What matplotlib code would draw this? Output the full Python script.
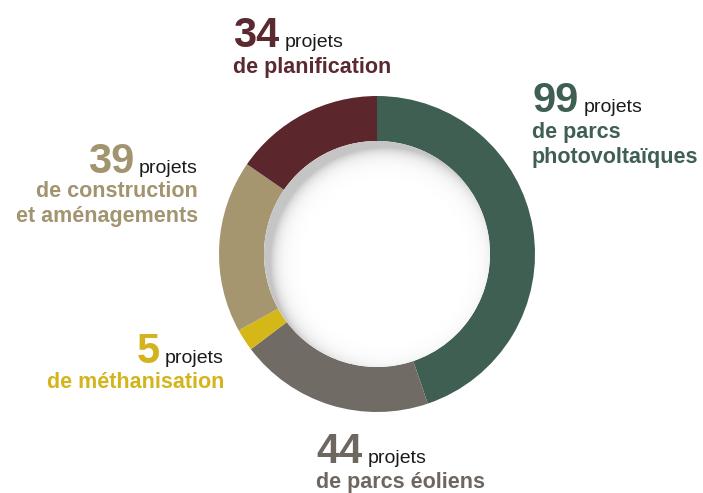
import numpy as np
import matplotlib
matplotlib.use("Agg")
import matplotlib.pyplot as plt
from matplotlib.patches import Circle

# data, clockwise from the top
counts = [99, 44, 5, 39, 34]
labels = [["de parcs", "photovoltaïques"],
          ["de parcs éoliens"],
          ["de méthanisation"],
          ["de construction", "et aménagements"],
          ["de planification"]]
ring_colors = ["#3f5f53", "#716b65", "#d6b718", "#a69670", "#5b272d"]
text_colors = ["#3f5f52", "#6d6760", "#d4b41c", "#a39470", "#5b2a30"]

W, H = 703, 493
fig = plt.figure(figsize=(W / 100, H / 100), dpi=100)
ax = fig.add_axes([0, 0, 1, 1])

cx, cy = 377, H - 254
r_out, r_in = 158, 113

ax.pie(counts, colors=ring_colors, startangle=90, counterclock=False,
       center=(cx, cy), radius=r_out,
       wedgeprops=dict(width=r_out - r_in, linewidth=0))

# soft inner shadow on the hole, mostly top-left
hole = Circle((cx, cy), r_in, facecolor="white", edgecolor="none", zorder=3)
ax.add_patch(hole)
xs = np.linspace(cx - r_in, cx + r_in, 300)
ys = np.linspace(cy - r_in, cy + r_in, 300)
X, Y = np.meshgrid(xs, ys)
d = (r_in + 2) - np.hypot(X - cx - 8, Y - cy + 8)
shade = np.exp(-np.clip(d, 0, None) / 7.0) * 0.35
img = np.ones((300, 300, 4))
img[..., :3] = 0.35
img[..., 3] = shade
im = ax.imshow(img, extent=(xs[0], xs[-1], ys[0], ys[-1]), origin="lower",
               zorder=4, interpolation="bilinear")
im.set_clip_path(Circle((cx, cy), r_in, transform=ax.transData))

ax.set_xlim(0, W)
ax.set_ylim(0, H)
ax.set_aspect("equal")
ax.axis("off")

plt.rcParams["font.family"] = ["Liberation Sans", "DejaVu Sans"]

# (anchor x, number baseline, label baselines, alignment) in pixels from top
spots = [(532, 112, [138, 163], "left"),
         (316, 463, [488], "left"),
         (224, 363, [388], "right"),
         (198, 173, [197, 222], "right"),
         (233, 47, [73], "left")]

renderer = fig.canvas.get_renderer()
for n, lab, col, (x0, yb, ylines, al) in zip(counts, labels, text_colors, spots):
    if al == "left":
        t = ax.text(x0, H - yb, str(n), fontsize=30, fontweight="bold",
                    color=col, ha="left", va="baseline")
        bb = t.get_window_extent(renderer)
        ax.text(bb.x1 + 5, H - yb, "projets", fontsize=14, color="#1a1a1a",
                ha="left", va="baseline")
    else:
        p = ax.text(x0, H - yb, "projets", fontsize=14, color="#1a1a1a",
                    ha="right", va="baseline")
        bb = p.get_window_extent(renderer)
        ax.text(bb.x0 - 5, H - yb, str(n), fontsize=30, fontweight="bold",
                color=col, ha="right", va="baseline")
    for line, yl in zip(lab, ylines):
        ax.text(x0, H - yl, line, fontsize=15.5, fontweight="bold",
                color=col, ha=al, va="baseline")

fig.savefig("out.png", dpi=100)
